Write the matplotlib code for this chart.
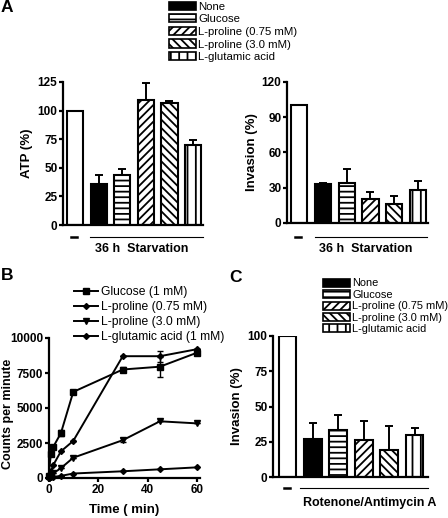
import matplotlib
matplotlib.use("Agg")
import matplotlib.pyplot as plt
from matplotlib import font_manager
from matplotlib.patches import Patch
from matplotlib.lines import Line2D

names = {f.name for f in font_manager.fontManager.ttflist}
NARROW = 'Liberation Sans Narrow' if 'Liberation Sans Narrow' in names else 'Liberation Sans'
plt.rcParams['font.family'] = [NARROW, 'DejaVu Sans']
plt.rcParams['hatch.linewidth'] = 1.3

W, H = 448, 518

# ---------------- data ----------------
groups = ['None', 'Glucose', 'L-proline (0.75 mM)', 'L-proline (3.0 mM)', 'L-glutamic acid']
atp_vals = [100, 36, 44, 109, 107, 70]
atp_err = [0, 8, 5, 15, 1.5, 4.5]
invA_vals = [100, 33, 34, 20, 16, 28]
invA_err = [0, 1, 12, 6, 7, 8]
invC_vals = [100, 27, 33, 26, 19, 30]
invC_err = [0, 11, 11, 14, 17, 5]

time_pts = [0, 1, 2, 5, 10, 30, 45, 60]
glucose_cpm = [150, 1750, 2250, 3200, 6150, 7750, 7950, 8950]
glucose_err = [0, 0, 0, 200, 0, 150, 700, 100]
pro075_cpm = [0, 500, 950, 1900, 2650, 8700, 8700, 9200]
pro075_err = [0, 0, 0, 0, 0, 0, 400, 0]
pro30_cpm = [0, 250, 350, 700, 1450, 2700, 4050, 3900]
pro30_err = [0, 0, 0, 0, 0, 150, 0, 0]
glu_cpm = [0, 50, 80, 150, 320, 480, 620, 760]
series_labels = ['Glucose (1 mM)', 'L-proline (0.75 mM)', 'L-proline (3.0 mM)', 'L-glutamic acid (1 mM)']

bar_faces = ['white', 'black', 'white', 'white', 'white', 'white']
bar_hatches = [None, None, '---', '////', '\\\\\\\\', '||']

TICK_FS = 8.5
LAB_FS = 9.5


def ax_at(l, r, t, b):
    return fig.add_axes([l / W, 1 - b / H, (r - l) / W, (b - t) / H])


def style(ax):
    for s in ['top', 'right']:
        ax.spines[s].set_visible(False)
    for s in ['left', 'bottom']:
        ax.spines[s].set_linewidth(1.6)
    ax.tick_params(axis='y', length=3, width=1.6, labelsize=TICK_FS, pad=1)
    for lab in ax.get_yticklabels():
        lab.set_fontweight('bold')


def bars(ax, vals, errs, width):
    x = list(range(len(vals)))
    for i in x:
        ax.bar(i, vals[i], width=width, color=bar_faces[i], edgecolor='black',
               hatch=bar_hatches[i], linewidth=1.5, zorder=2)
    ax.errorbar(x, vals, yerr=[[0] * len(vals), errs], fmt='none', ecolor='black',
                elinewidth=1.4, capsize=3, capthick=1.4, zorder=1)
    ax.set_xticks([])


def fx(x):
    return x / W


def fy(y):
    return 1 - y / H


fig = plt.figure(figsize=(W / 100, H / 100), dpi=100)

# ---------- Panel A left ----------
ax1 = ax_at(63, 203, 82, 225)
bars(ax1, atp_vals, atp_err, 0.68)
ax1.set_xlim(-0.51, 5.42)
ax1.set_ylim(0, 125)
ax1.set_yticks([0, 25, 50, 75, 100, 125])
style(ax1)
ax1.set_ylabel('ATP (%)', fontsize=LAB_FS, fontweight='bold', family='Liberation Sans', labelpad=3)

# ---------- Panel A right ----------
ax2 = ax_at(287, 428, 82, 223)
bars(ax2, invA_vals, invA_err, 0.68)
ax2.set_xlim(-0.51, 5.42)
ax2.set_ylim(0, 120)
ax2.set_yticks([0, 30, 60, 90, 120])
style(ax2)
ax2.set_ylabel('Invasion (%)', fontsize=LAB_FS, fontweight='bold', family='Liberation Sans', labelpad=3)

# ---------- Panel C ----------
ax3 = ax_at(273, 428, 336, 477)
bars(ax3, invC_vals, invC_err, 0.7)
ax3.set_xlim(-0.57, 5.53)
ax3.set_ylim(0, 100)
ax3.set_yticks([0, 25, 50, 75, 100])
style(ax3)
ax3.set_ylabel('Invasion (%)', fontsize=LAB_FS, fontweight='bold', family='Liberation Sans', labelpad=3)

# ---------- Panel B ----------
ax4 = ax_at(48.5, 199.5, 338, 478)
ser = [(glucose_cpm, glucose_err, 's', 4.5), (pro075_cpm, pro075_err, 'D', 3),
       (pro30_cpm, pro30_err, 'v', 5), (glu_cpm, None, 'D', 3)]
for (vals, err, m, ms), lab in zip(ser, series_labels):
    ax4.plot(time_pts, vals, color='black', lw=1.4, marker=m, ms=ms, label=lab, clip_on=False, zorder=3)
    if err is not None:
        ax4.errorbar(time_pts, vals, yerr=err, fmt='none', ecolor='black', elinewidth=1,
                     capsize=2, capthick=1, clip_on=False)
ax4.set_xlim(0, 61)
ax4.set_ylim(0, 10000)
ax4.set_xticks([0, 20, 40, 60])
ax4.set_yticks([0, 2500, 5000, 7500, 10000])
style(ax4)
ax4.tick_params(axis='x', length=3, width=1.6, labelsize=TICK_FS, pad=1)
for lab in ax4.get_xticklabels():
    lab.set_fontweight('bold')
ax4.set_ylabel('Counts per minute', fontsize=9, fontweight='bold', family='Liberation Sans')
ax4.yaxis.set_label_coords((14.5 - 48.5) / 151, (478 - 414) / 140)
ax4.set_xlabel('Time ( min)', fontsize=LAB_FS, fontweight='bold', family='Liberation Sans', labelpad=6)

# legend B
h4, l4 = ax4.get_legend_handles_labels()
fig.legend(h4, l4, loc='upper left', bbox_to_anchor=(fx(74), fy(286)), frameon=False,
           fontsize=8.7, handlelength=2.0, handletextpad=0.2, labelspacing=0.25,
           borderaxespad=0, borderpad=0)

# bar legends
leg_handles = [Patch(facecolor=bar_faces[i + 1], edgecolor='black', hatch=bar_hatches[i + 1], linewidth=1.2)
               for i in range(5)]
fig.legend(leg_handles, groups, loc='upper left', bbox_to_anchor=(fx(169), fy(1.5)), frameon=False,
           fontsize=8.2, handlelength=2.4, handleheight=0.75, handletextpad=0.15, labelspacing=0.22,
           borderaxespad=0, borderpad=0)
fig.legend(leg_handles, groups, loc='upper left', bbox_to_anchor=(fx(323), fy(278.5)), frameon=False,
           fontsize=7.9, handlelength=2.5, handleheight=0.75, handletextpad=0.15, labelspacing=0.13,
           borderaxespad=0, borderpad=0)

# group annotations
def annot(dash_x, line_x0, line_x1, y, text, tx, ty):
    fig.add_artist(Line2D([fx(dash_x - 3), fx(dash_x + 3)], [fy(y), fy(y)], color='black', lw=1.8))
    fig.add_artist(Line2D([fx(line_x0), fx(line_x1)], [fy(y), fy(y)], color='black', lw=0.8))
    fig.text(fx(tx), fy(ty), text, ha='center', va='center', fontsize=9, fontweight='bold',
             family='Liberation Sans')

annot(74, 90, 203, 237, '36 h  Starvation', 142, 249)
annot(298, 315, 427, 237, '36 h  Starvation', 366, 249)
annot(287, 300, 428, 488, 'Rotenone/Antimycin A', 370, 503)

# panel letters
for t, x, y in [('A', 1, 8), ('B', 1, 275), ('C', 229, 277)]:
    fig.text(fx(x), fy(y), t, ha='left', va='center', fontsize=12.5, fontweight='bold',
             family='Liberation Sans')

fig.savefig('out.png', dpi=100)
